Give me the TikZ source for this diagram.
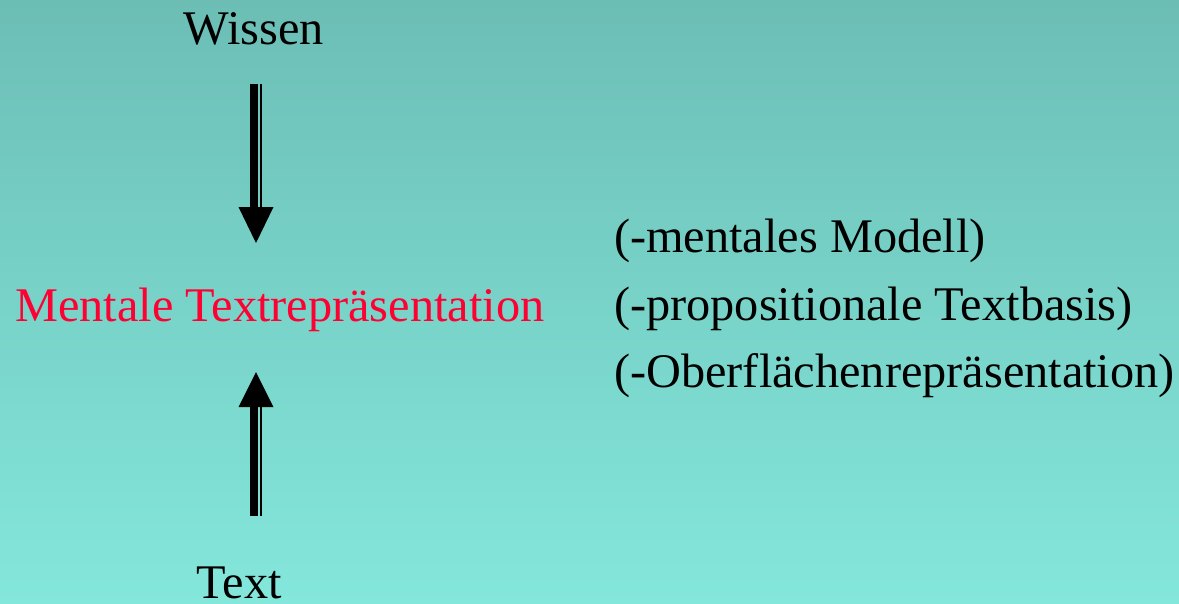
\documentclass[tikz,border=0pt]{standalone}
\usepackage{fontspec}
\setmainfont{Liberation Serif}
\usepackage{tikz}
\usetikzlibrary{positioning,calc}

\definecolor{bgtop}{RGB}{108,190,181}
\definecolor{bgbottom}{RGB}{132,231,220}
\definecolor{hotred}{RGB}{255,0,51}

\tikzset{
  label/.style={inner sep=0pt, font=\fontsize{48.3}{58}\selectfont},
  fatshaft/.style={line width=7.3pt},
  slimshaft/.style={line width=2.7pt},
}

\begin{document}
\begin{tikzpicture}[x=1pt,y=1pt]
\shade[top color=bgtop, bottom color=bgbottom] (0,0) rectangle (1179,-603);
\useasboundingbox (0,0) rectangle (1179,-603);

\node[label, anchor=base, name=wissen] at (254,-44) {Wissen};
\node[label, anchor=base west, text=hotred, name=mtr] at (15,-321) {Mentale Textrepräsentation};
\node[label, anchor=base, name=text] at (239,-598) {Text};

\node[label, anchor=base west, name=mm] at (614,-252) {(-mentales Modell)};
\node[label, anchor=base west, name=ptb] at (614,-320) {(-propositionale Textbasis)};
\node[label, anchor=base west, name=ofr] at (614,-387) {(-Oberflächenrepräsentation)};

% down arrow (Wissen)
\coordinate (dtop) at (256,-84);
\coordinate (dbase) at (256,-207);
\coordinate (dtip) at (256,-243);
\draw[fatshaft] ([xshift=-2pt]dtop) -- ([xshift=-2pt]dbase);
\draw[slimshaft] ([xshift=5pt]dtop) -- ([xshift=5pt]dbase);
\fill ([xshift=-17.5pt]dbase) -- ([xshift=17.5pt]dbase) -- (dtip) -- cycle;

% up arrow (Text)
\coordinate (ubot) at (256,-516);
\coordinate (ubase) at (256,-407);
\coordinate (utip) at (256,-372);
\draw[fatshaft] ([xshift=-2pt]ubot) -- ([xshift=-2pt]ubase);
\draw[slimshaft] ([xshift=5pt]ubot) -- ([xshift=5pt]ubase);
\fill ([xshift=-17.5pt]ubase) -- ([xshift=17.5pt]ubase) -- (utip) -- cycle;
\end{tikzpicture}
\end{document}
